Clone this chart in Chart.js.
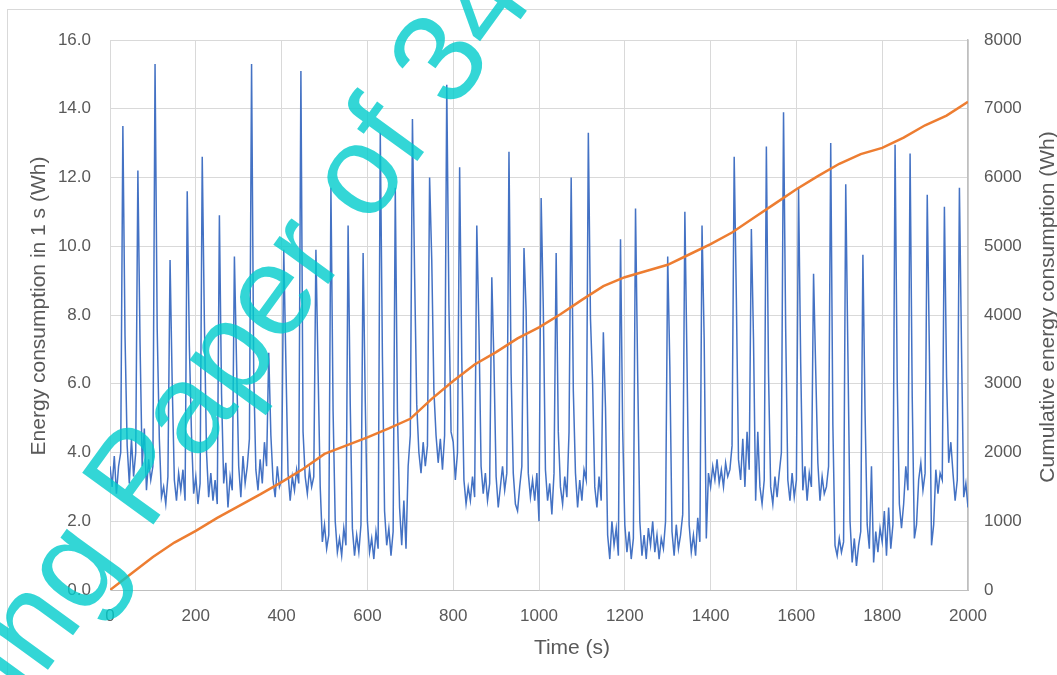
<!DOCTYPE html>
<html>
<head>
<meta charset="utf-8">
<title>Energy consumption</title>
<script src="https://cdn.jsdelivr.net/npm/chart.js@4.4.1/dist/chart.umd.min.js"></script>
<style>
  html, body { margin: 0; padding: 0; background: #ffffff; }
  #energy-chart { display: block; }
</style>
</head>
<body>
<canvas id="energy-chart" width="1057" height="675"></canvas>
<script>
const energyStepS = 5;
const energyWh = [
  3.6, 3.0, 3.9, 2.8, 3.6, 4.0, 13.5, 7.4, 4.2, 3.1, 4.4, 3.3, 4.0, 12.2, 7.2, 3.6, 4.7, 2.9, 3.8, 3.2,
  3.6, 15.3, 7.6, 4.4, 2.7, 3.0, 2.5, 3.3, 9.6, 6.0, 3.2, 2.6, 3.4, 2.9, 3.5, 2.6, 11.6, 7.1, 4.5, 2.8,
  3.3, 2.5, 3.1, 12.6, 7.8, 4.0, 2.7, 3.4, 2.6, 3.2, 2.5, 10.9, 5.7, 3.1, 3.7, 2.4, 3.3, 2.9, 9.7, 6.6,
  3.6, 2.7, 3.9, 3.1, 3.6, 4.4, 15.3, 6.3, 3.5, 2.9, 3.8, 3.1, 4.3, 3.6, 6.9, 4.5, 3.2, 2.7, 3.6, 3.0,
  3.2, 9.9, 6.6, 3.4, 2.6, 3.3, 2.9, 3.5, 3.1, 15.1, 4.6, 3.3, 2.8, 3.5, 3.0, 3.3, 9.9, 6.4, 3.0, 1.4,
  1.9, 1.2, 1.6, 11.7, 5.2, 2.0, 1.1, 1.5, 1.0, 1.8, 1.3, 10.6, 5.4, 1.8, 1.0, 1.6, 1.1, 1.9, 9.8, 5.5,
  2.0, 1.1, 1.5, 0.9, 1.7, 1.2, 13.3, 6.8, 2.3, 1.3, 1.8, 1.0, 1.7, 11.7, 5.2, 2.4, 1.3, 2.6, 1.2, 3.6,
  4.5, 13.7, 9.2, 5.4, 4.0, 3.4, 4.3, 3.6, 4.2, 12.0, 9.6, 5.8, 4.5, 3.7, 4.4, 3.5, 4.5, 14.7, 8.3, 4.6,
  4.3, 3.2, 4.0, 12.3, 6.7, 3.2, 2.5, 3.0, 2.6, 3.3, 2.7, 10.6, 7.6, 3.6, 2.8, 3.4, 2.6, 3.1, 9.1, 6.6,
  3.3, 2.4, 3.0, 3.6, 2.9, 3.4, 12.75, 6.3, 3.4, 2.5, 2.3, 3.0, 3.6, 9.95, 8.1, 3.4, 2.7, 3.2, 2.6, 3.4,
  2.0, 11.4, 8.2, 3.5, 2.6, 3.1, 2.2, 3.4, 9.8, 4.6, 3.0, 2.5, 3.3, 2.7, 4.6, 12.0, 5.8, 3.4, 2.4, 3.2,
  2.6, 3.5, 3.2, 13.3, 7.9, 6.0, 3.0, 2.4, 3.3, 2.6, 7.5, 5.3, 1.6, 0.9, 2.0, 1.3, 1.8, 1.0, 10.2, 4.7,
  1.9, 1.1, 1.7, 0.9, 1.5, 11.1, 6.3, 2.0, 1.0, 1.6, 0.9, 1.8, 1.3, 2.0, 1.1, 1.6, 0.9, 1.5, 1.2, 2.0,
  9.7, 6.5, 1.7, 1.0, 1.9, 1.2, 1.6, 2.2, 11.0, 6.6, 1.9, 1.1, 1.6, 1.0, 2.1, 1.4, 10.6, 7.3, 1.5, 3.4,
  3.0, 3.6, 3.2, 3.8, 3.1, 3.5, 3.0, 3.7, 3.3, 3.5, 4.2, 12.6, 8.5, 3.8, 3.2, 4.4, 3.0, 4.6, 3.5, 10.5,
  7.3, 2.6, 4.6, 3.0, 2.5, 3.2, 12.9, 6.3, 3.0, 2.5, 3.3, 2.7, 3.4, 4.0, 13.9, 7.6, 3.2, 2.6, 3.4, 2.7,
  3.2, 11.7, 6.6, 2.9, 3.6, 2.6, 3.4, 3.0, 9.2, 6.4, 3.7, 2.6, 3.3, 2.8, 3.0, 3.6, 13.0, 4.8, 1.3, 1.0,
  1.5, 1.1, 1.4, 11.8, 6.9, 2.0, 0.8, 1.5, 0.7, 1.3, 1.7, 9.75, 5.2, 1.9, 1.2, 3.6, 0.8, 1.7, 1.1, 1.8,
  1.4, 2.3, 1.0, 2.4, 1.2, 1.9, 12.95, 6.1, 2.5, 1.8, 2.5, 3.6, 2.9, 12.7, 5.6, 1.5, 1.9, 3.2, 3.7, 2.9,
  3.4, 11.5, 6.9, 1.3, 1.9, 3.5, 2.8, 3.4, 3.2, 11.15, 6.2, 3.7, 4.3, 3.4, 2.6, 3.2, 11.7, 6.9, 2.7, 3.1,
  2.4
];

// running total, every 50 s
const cumulativeStepS = 50;
const cumulativeWh = [
  0, 240, 480, 690, 860, 1050, 1220, 1390, 1570, 1760,
  1980, 2100, 2220, 2350, 2490, 2780, 3040, 3280, 3460, 3660,
  3820, 4010, 4220, 4420, 4550, 4640, 4730, 4880, 5030, 5200,
  5410, 5620, 5830, 6020, 6200, 6340, 6430, 6580, 6760, 6900,
  7100
];

const timeTicks = { min: 0, max: 2000, step: 200 };
const energyTicks = { min: 0, max: 16, step: 2 };
const cumulativeTicks = { min: 0, max: 8000, step: 1000 };

const xTitle = 'Time (s)';
const yTitle = 'Energy consumption in 1 s (Wh)';
const y2Title = 'Cumulative energy consumption (Wh)';

const FONT = '"Liberation Sans", Arial, sans-serif';
const TEXT_GREY = '#595959';
const GRID_GREY = '#d9d9d9';
const AXIS_GREY = '#bfbfbf';

function toPoints(values, step) {
  return values.map((v, i) => ({ x: i * step, y: v }));
}

function drawText(ctx, text, x, y, angle, font, color) {
  ctx.save();
  ctx.translate(x, y);
  ctx.rotate(angle);
  ctx.font = font;
  ctx.fillStyle = color;
  ctx.textAlign = 'center';
  ctx.textBaseline = 'middle';
  ctx.fillText(text, 0, 0);
  ctx.restore();
}

const frameAndLabels = {
  id: 'frameAndLabels',
  beforeDraw(chart) {
    const ctx = chart.ctx;
    ctx.save();
    ctx.fillStyle = '#ffffff';
    ctx.fillRect(0, 0, chart.width, chart.height);
    ctx.strokeStyle = GRID_GREY;
    ctx.lineWidth = 1;
    ctx.strokeRect(7.5, 9.5, chart.width + 20, chart.height + 20);
    ctx.restore();
  },
  afterDraw(chart) {
    const ctx = chart.ctx;
    const titleFont = `21px ${FONT}`;

    // axis titles (Excel places them a bit off the plot centre)
    drawText(ctx, xTitle, 572, 648, 0, titleFont, TEXT_GREY);
    drawText(ctx, yTitle, 39, 306, -Math.PI / 2, titleFont, TEXT_GREY);
    drawText(ctx, y2Title, 1048, 307, -Math.PI / 2, titleFont, TEXT_GREY);

    // watermark across the plot
    ctx.save();
    ctx.translate(26, 700);
    ctx.rotate(-54 * Math.PI / 180);
    ctx.font = `128px ${FONT}`;
    ctx.fillStyle = 'rgba(0, 204, 204, 0.8)';
    ctx.textAlign = 'left';
    ctx.textBaseline = 'alphabetic';
    ctx.fillText('ing Paper of 34', 0, 0);
    ctx.restore();
  }
};

function renderChart() {
  const ctx = document.getElementById('energy-chart').getContext('2d');

  new Chart(ctx, {
    type: 'line',
    data: {
      datasets: [
        {
          label: y2Title,
          data: toPoints(cumulativeWh, cumulativeStepS),
          yAxisID: 'y2',
          borderColor: '#ed7d31',
          borderWidth: 2.5,
          pointRadius: 0,
          tension: 0,
          order: 0
        },
        {
          label: yTitle,
          data: toPoints(energyWh, energyStepS),
          yAxisID: 'y',
          borderColor: '#4472c4',
          borderWidth: 1.5,
          pointRadius: 0,
          tension: 0,
          order: 1
        }
      ]
    },
    options: {
      responsive: false,
      animation: false,
      devicePixelRatio: 1,
      layout: { padding: { left: 0, right: 0, top: 40, bottom: 0 } },
      scales: {
        x: {
          type: 'linear',
          min: timeTicks.min,
          max: timeTicks.max,
          afterFit: (scale) => { scale.height = 85; },
          grid: { color: GRID_GREY, drawTicks: false },
          border: { color: AXIS_GREY, width: 1 },
          ticks: {
            stepSize: timeTicks.step,
            padding: 16,
            color: TEXT_GREY,
            font: { family: FONT, size: 17 },
            maxRotation: 0,
            callback: (value) => String(value)
          }
        },
        y: {
          position: 'left',
          min: energyTicks.min,
          max: energyTicks.max,
          afterFit: (scale) => { scale.width = 110; },
          grid: { color: GRID_GREY, drawTicks: false },
          border: { color: GRID_GREY, width: 1 },
          ticks: {
            stepSize: energyTicks.step,
            padding: 19,
            color: TEXT_GREY,
            font: { family: FONT, size: 17 },
            callback: (value) => value.toFixed(1)
          }
        },
        y2: {
          position: 'right',
          min: cumulativeTicks.min,
          max: cumulativeTicks.max,
          afterFit: (scale) => { scale.width = 89; },
          grid: { drawOnChartArea: false, drawTicks: false },
          border: { color: AXIS_GREY, width: 1.5 },
          ticks: {
            stepSize: cumulativeTicks.step,
            padding: 16,
            color: TEXT_GREY,
            font: { family: FONT, size: 17 },
            callback: (value) => String(value)
          }
        }
      },
      plugins: {
        legend: { display: false },
        tooltip: { enabled: false }
      }
    },
    plugins: [frameAndLabels]
  });
}

document.addEventListener('DOMContentLoaded', renderChart);
</script>
</body>
</html>
